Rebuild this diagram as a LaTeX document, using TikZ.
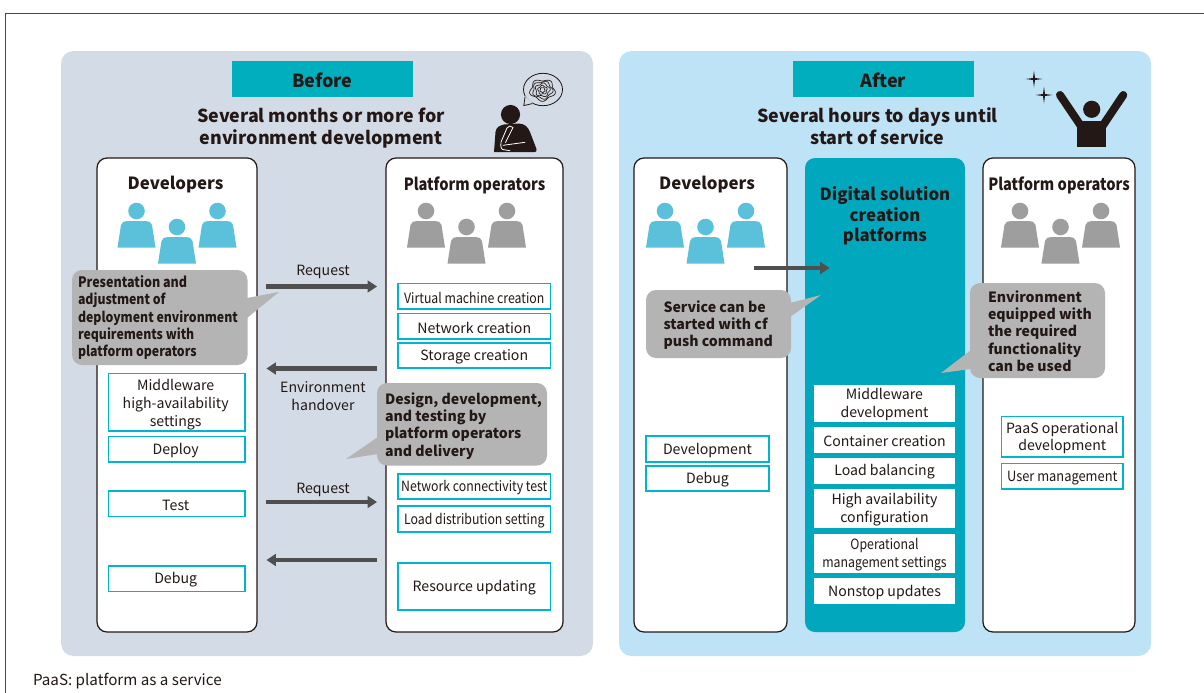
\documentclass[tikz,border=0pt]{standalone}
\usepackage{fontspec}
\setmainfont{Noto Sans CJK JP}
\newfontfamily\narrowA[FakeStretch=0.87]{Noto Sans CJK JP}
\newfontfamily\narrowB[FakeStretch=0.91]{Noto Sans CJK JP}
\usetikzlibrary{arrows.meta,calc}
\definecolor{ink}{HTML}{231815}
\definecolor{panelA}{HTML}{D3DCE6}
\definecolor{panelB}{HTML}{BEE3F7}
\definecolor{headteal}{HTML}{00AEBD}
\definecolor{midteal}{HTML}{00A7BD}
\definecolor{boxcyan}{HTML}{00B5CF}
\definecolor{callgray}{HTML}{B4B4B4}
\definecolor{iconblue}{HTML}{5BC0DA}
\definecolor{icongray}{HTML}{9E9E9E}
\definecolor{arrowgray}{HTML}{4F4F4F}
\tikzset{
  x=0.75pt,y=-0.75pt,
  every node/.style={text=ink,inner sep=0pt,outer sep=0pt,align=center},
  panel/.style={rounded corners=9.4pt},
  lane/.style={draw=ink,line width=0.9pt,fill=white,rounded corners=7.5pt},
  lanetitle/.style={font=\fontsize{12.6pt}{15pt}\selectfont\bfseries},
  headbox/.style={fill=headteal,font=\fontsize{13.5pt}{16pt}\selectfont\bfseries},
  headline/.style={font=\fontsize{13.4pt}{16.4pt}\selectfont\bfseries},
  taskbox/.style={draw=boxcyan,line width=1.1pt,fill=white,font=\fontsize{10.6pt}{13.3pt}\selectfont},
  midtask/.style={fill=white,font=\fontsize{10.6pt}{13.3pt}\selectfont},
  callbox/.style={fill=callgray,rounded corners=7.5pt},
  calltext/.style={font=\fontsize{10.6pt}{13pt}\selectfont\bfseries,align=left},
  flow/.style={draw=arrowgray,line width=3.3pt,-{Triangle[length=7pt,width=8.8pt]}},
  lbl/.style={font=\fontsize{10.6pt}{13.4pt}\selectfont,text=ink},
  person/.pic={
    \fill[pic actions] (0,0) circle (8.3);
    \fill[pic actions] (-19,36.5) -- (-15.5,14) .. controls (-15,11) and (-12,10) .. (-9,10)
       -- (9,10) .. controls (12,10) and (15,11) .. (15.5,14) -- (19,36.5) -- cycle;
  },
}
\newcommand{\trioat}[3]{%
  \path (#1-40.5,#2) pic[fill=#3] {person};
  \path (#1,#2+16) pic[fill=#3] {person};
  \path (#1+40.5,#2) pic[fill=#3] {person};
}
\def\txdx{0pt}
\def\txdy{-1pt}
\newcommand{\boxat}[7][taskbox]{%
  \node[#1,minimum width={(#5-#3)*0.75pt},minimum height={(#6-#4)*0.75pt}] (#2) at ({(#3+#5)/2},{(#4+#6)/2}) {};
  \node[#1,draw=none,fill=none] (#2t) at ([xshift=\txdx,yshift=\txdy]#2.center) {#7};}
\begin{document}
\begin{tikzpicture}
\useasboundingbox (0,0) rectangle (1204,693);
\fill[white] (0,0) rectangle (1204,693);
\draw[draw=ink!80,line width=0.7pt] (5.5,693) -- (5.5,13.5) -- (1204,13.5);
\fill[panelA,panel] (61,51) rectangle (593,656);
\fill[panelB,panel] (619,51) rectangle (1151,656);
\boxat[headbox]{hB}{232}{61}{413}{97}{Before}
\boxat[headbox]{hA}{793}{61}{974}{97}{After}
\node[headline] (tB) at (321,128) {Several months or more for\\environment development};
\node[headline] (tA) at (877.5,126.5) {Several hours to days until\\start of service};
\draw[lane] (97,158) rectangle (257,632);
\node[lanetitle] (ldev) at (175.5,185) {Developers};
\draw[lane] (386,158) rectangle (563,632);
\node[lanetitle] (lpo) at (474.5,185) {\narrowA\bfseries Platform operators};
\draw[lane] (634,158) rectangle (787,632);
\node[lanetitle] (rdev) at (707,185) {Developers};
\fill[midteal,rounded corners=7.5pt] (805,158) rectangle (965,632);
\node[font=\fontsize{12.6pt}{15.2pt}\selectfont\bfseries] (rmid) at (885,216) {Digital solution\\creation\\platforms};
\draw[lane] (983,158) rectangle (1135,632);
\node[lanetitle] (rpo) at (1059,185) {\narrowA\bfseries Platform operators};
\trioat{177}{211}{iconblue}
\trioat{466.5}{211}{icongray}
\trioat{705.5}{211}{iconblue}
\trioat{1060.5}{211}{icongray}
\def\txdx{-0.8pt}
\boxat{m2}{108.5}{436.5}{245}{462}{Deploy}
\boxat{m3}{108.5}{491}{245}{516.5}{Test}
\boxat{m4}{108.5}{566}{245}{591.5}{Debug}
\def\txdy{-1.7pt}
\boxat{m1}{108.5}{373.5}{245}{431}{Middleware\\high-availability\\settings}
\def\txdy{-1pt}
\def\txdx{0pt}
\boxat{p1}{398}{283.5}{550.5}{309}{\narrowA Virtual machine creation}
\boxat{p2}{398}{313.5}{550.5}{339}{Network creation}
\boxat{p3}{398}{343}{550.5}{368}{Storage creation}
\boxat{p4}{398}{474}{550.5}{499}{\narrowA Network connectivity test}
\boxat{p5}{398}{506}{550.5}{532}{\narrowA Load distribution setting}
\boxat{p6}{398}{563}{550.5}{610}{Resource updating}
\boxat{d1}{646}{436}{769}{462}{Development}
\boxat{d2}{646}{466}{769}{491}{Debug}
\boxat{o1}{1001.5}{416.5}{1123}{457}{PaaS operational\\development}
\boxat{o2}{1001.5}{463.5}{1123}{489}{\narrowB User management}
\boxat[midtask]{c1}{814}{385}{955}{421.5}{Middleware\\development}
\boxat[midtask]{c2}{814}{426.5}{955}{453}{Container creation}
\boxat[midtask]{c3}{814}{457.5}{955}{484}{Load balancing}
\boxat[midtask]{c4}{814}{489}{955}{528}{High availability\\configuration}
\boxat[midtask]{c5}{814}{534}{955}{572.5}{\narrowA Operational\\\narrowA management settings}
\boxat[midtask]{c6}{814}{578}{955}{604}{Nonstop updates}
\coordinate (a1s) at (266,286.5); \coordinate (a1e) at (377,286.5);
\coordinate (a2s) at (377,368.5); \coordinate (a2e) at (266.5,368.5);
\coordinate (a3s) at (266,502); \coordinate (a3e) at (377,502);
\coordinate (a4s) at (377,560); \coordinate (a4e) at (266.5,560);
\coordinate (a5s) at (754,268); \coordinate (a5e) at (829.5,268);
\draw[flow] (a1s) -- (a1e);
\draw[flow] (a2s) -- (a2e);
\draw[flow] (a3s) -- (a3e);
\draw[flow] (a4s) -- (a4e);
\draw[flow] (a5s) -- (a5e);
\node[lbl] (q1) at (323,272) {Request};
\node[lbl] (q2) at (323,396.5) {Environment\\handover};
\node[lbl] (q3) at (323,490) {Request};
\fill[callgray] (247,298) -- (279,292) -- (247,318) -- cycle;
\fill[callbox] (72,270) rectangle (247.5,365);
\node[calltext,anchor=west] (k1) at (78,317.7) {\fontsize{10.8pt}{13pt}\narrowA\bfseries Presentation and\\\narrowA\bfseries adjustment of\\\narrowA\bfseries deployment environment\\\narrowA\bfseries requirements with\\\narrowA\bfseries platform operators};
\fill[callgray] (378,437) -- (346,459) -- (378,454) -- cycle;
\fill[callbox] (377,383) rectangle (547,465.5);
\node[calltext,anchor=west] (k2) at (385,426) {Design, development,\\and testing by\\platform operators\\and delivery};
\fill[callgray] (790,303) -- (821,295) -- (790,317) -- cycle;
\fill[callbox] (646,290) rectangle (791,358);
\node[calltext,anchor=west] (k3) at (663.5,325) {Service can be\\started with cf\\push command};
\fill[callgray] (971,350) -- (941,373) -- (971,369) -- cycle;
\fill[callbox] (970,283) rectangle (1105,378);
\node[calltext,anchor=west] (k4) at (988,331) {Environment\\equipped with\\the required\\functionality\\can be used};
% thinking person
\fill[ink] (510.5,114.5) circle (9.6);
\fill[ink] (494,152) -- (495.5,132) .. controls (496,127) and (500,125.5) .. (504,124.5) -- (519,123.5) .. controls (525,124) and (528,127) .. (530,132) -- (536.5,149) .. controls (537,151) and (536,152) .. (535,152) -- cycle;
\draw[white,line width=0.6pt,line cap=round,line join=round] (510,150.7) -- (502.5,149.5) .. controls (500.5,148) and (500.5,144) .. (501,142) -- (507,128) .. controls (508,125.5) and (511.5,125.5) .. (513,127.5) -- (505.5,142.5);
\draw[white,line width=0.6pt,line cap=round] (503,145.3) -- (525,142.3);
% thought bubble
\draw[ink,line width=0.6pt] (543,89.5) ellipse (19.5 and 16.2);
\fill[panelA] (525,96) -- (523.3,105.7) -- (533,103.5) -- cycle;
\draw[ink,line width=0.6pt,line join=round] (525,97) -- (523.8,105.6) -- (532.3,103.6);
\foreach \rx/\ry/\ph in {12/10.2/0,9.6/8.4/60,7/6.4/130,4.4/4.2/200,2.4/2.4/20}{
  \draw[ink,line width=0.5pt] plot[domain=0:360,samples=48,smooth,variable=\t]
    ({542.5+\rx*(1+0.12*sin(5*\t+\ph))*cos(\t)},{90+\ry*(1+0.12*sin(5*\t+\ph))*sin(\t)}) -- cycle;
}
% happy person
\fill[ink] (1091.7,109.3) circle (8.6);
\draw[ink,line width=6pt,line cap=round] (1060,95) -- (1083,129);
\draw[ink,line width=6pt,line cap=round] (1123.3,95) -- (1100.5,129);
\fill[ink] (1077.3,121) -- (1106,121) -- (1106,146.7) -- (1077.3,146.7) -- cycle;
\foreach \sx/\sy/\sr in {1034/79/8.5,1044/95/8.5}{
  \fill[ink] (\sx-\sr,\sy) -- (\sx-1,\sy-1) -- (\sx,\sy-\sr) -- (\sx+1,\sy-1) -- (\sx+\sr,\sy) -- (\sx+1,\sy+1) -- (\sx,\sy+\sr) -- (\sx-1,\sy+1) -- cycle;
}
\node[font=\fontsize{11.4pt}{13pt}\selectfont,anchor=west] (foot) at (33,681.5) {PaaS: platform as a service};
\end{tikzpicture}
\end{document}
